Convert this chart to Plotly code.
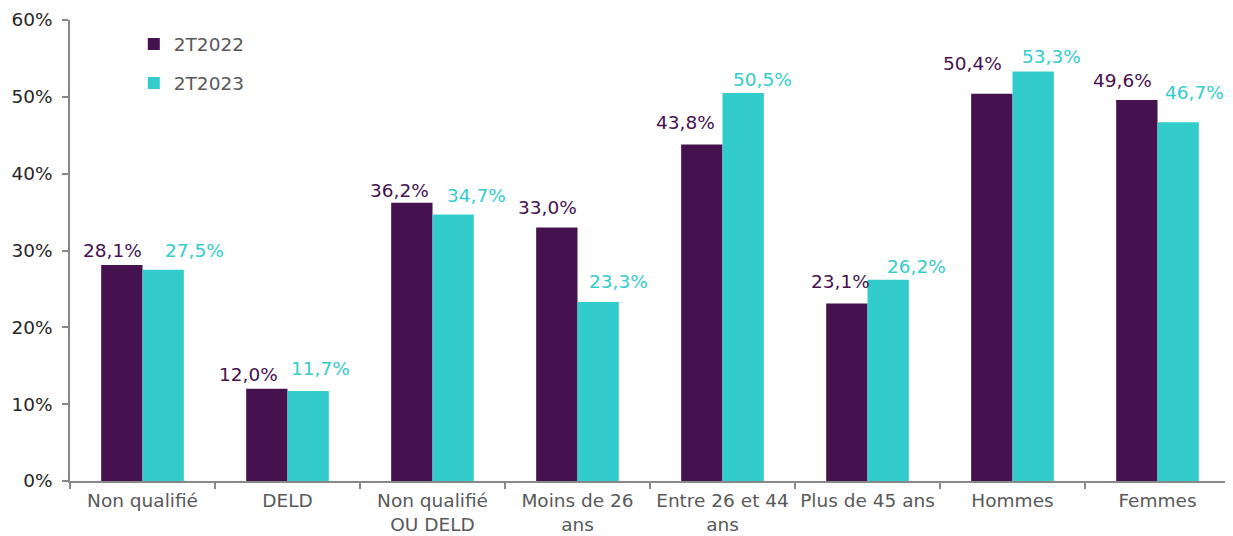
import plotly.graph_objects as go

categories = ["Non qualifié", "DELD", "Non qualifié<br>OU DELD", "Moins de 26<br>ans",
              "Entre 26 et 44<br>ans", "Plus de 45 ans", "Hommes", "Femmes"]
s2022 = [28.1, 12.0, 36.2, 33.0, 43.8, 23.1, 50.4, 49.6]
s2023 = [27.5, 11.7, 34.7, 23.3, 50.5, 26.2, 53.3, 46.7]
yticks = [0, 10, 20, 30, 40, 50, 60]

# label placement offsets (pixels) — style only
dx2022 = [-30, -39, -33, -30, -37, -27, -40, -35]
dy2022 = [2, 2, 0, 7, 9, 10, 18, 7]
dx2023 = [52, 33, 44, 41, 40, 49, 39, 37]
dy2023 = [7, 10, 6, 8, 1, 1, 2, 17]

C1 = "#45114F"
C2 = "#33CCCC"
FONT = "Verdana, DejaVu Sans, sans-serif"
FS = 18.5

fig = go.Figure()
fig.add_trace(go.Bar(x=categories, y=s2022, name="2T2022", marker_color=C1,
                     marker_line_width=0, legendgroup="a", cliponaxis=False))
fig.add_trace(go.Bar(x=categories, y=s2023, name="2T2023", marker_color=C2,
                     marker_line_width=0, legendgroup="b", cliponaxis=False))

def fmt(v):
    return f"{v:.1f}%".replace(".", ",")

for c, v, dx, dy in zip(categories, s2022, dx2022, dy2022):
    fig.add_annotation(x=c, y=v, text=fmt(v), showarrow=False, xshift=dx, yshift=dy,
                       yanchor="bottom", font=dict(family=FONT, size=FS, color=C1))
for c, v, dx, dy in zip(categories, s2023, dx2023, dy2023):
    fig.add_annotation(x=c, y=v, text=fmt(v), showarrow=False, xshift=dx, yshift=dy,
                       yanchor="bottom", font=dict(family=FONT, size=FS, color=C2))

fig.update_layout(
    width=1225, height=528,
    margin=dict(l=62, r=3, t=12, b=55, autoexpand=False),
    plot_bgcolor="white", paper_bgcolor="white",
    barmode="group", bargap=0.43, bargroupgap=0,
    font=dict(family=FONT, size=FS, color="#595959"),
    legend=dict(x=0.055, y=0.988, xanchor="left", yanchor="top",
                tracegroupgap=12, font=dict(family=FONT, size=FS, color="#595959"),
                bgcolor="rgba(0,0,0,0)"),
    separators=",.",
)
fig.update_xaxes(showline=True, linecolor="#888888", linewidth=1.5,
                 ticks="outside", tickson="boundaries", ticklen=6, tickcolor="#888888",
                 tickwidth=1.5, ticklabelstandoff=2, automargin=False,
                 tickfont=dict(family=FONT, size=FS, color="#595959"),
                 showgrid=False)
fig.update_yaxes(range=[0, 60], tickvals=yticks, ticktext=[f"{t}%" for t in yticks],
                 showline=True, linecolor="#888888", linewidth=1.5,
                 ticks="outside", ticklen=6, tickcolor="#888888", tickwidth=1.5,
                 ticklabelstandoff=6, automargin=False,
                 tickfont=dict(family=FONT, size=FS, color="#262626"),
                 showgrid=False, zeroline=False)

fig.write_html("out.html")
